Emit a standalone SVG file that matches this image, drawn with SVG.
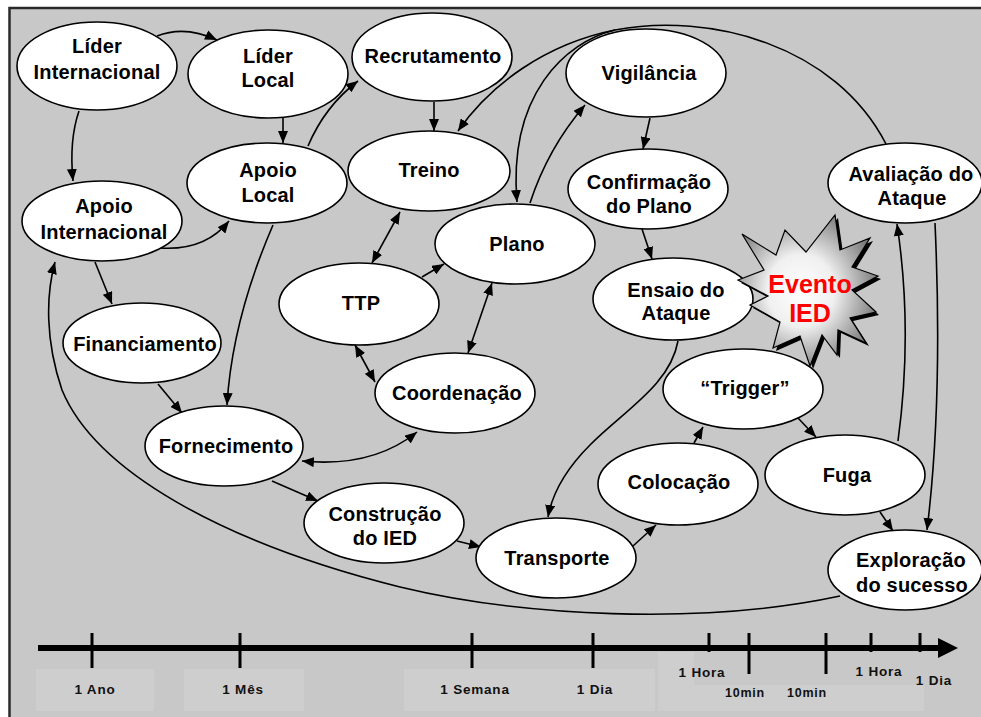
<svg xmlns="http://www.w3.org/2000/svg" width="981" height="717" viewBox="0 0 981 717">
<defs>
<style>
.bg{fill:#c8c8c8}
.box{fill:#cecece}
.nd{fill:#fff;stroke:#000;stroke-width:1.6}
.n{font-family:"Liberation Sans",Arial,sans-serif;font-weight:bold;font-size:20px;letter-spacing:0.2px;text-anchor:middle;fill:#000}
.ev{font-family:"Liberation Sans",Arial,sans-serif;font-weight:bold;font-size:25px;text-anchor:middle;fill:#ff0000}
.t{font-family:"Liberation Sans",Arial,sans-serif;font-weight:bold;font-size:13.5px;letter-spacing:0.8px;text-anchor:middle;fill:#111}
.c{fill:none;stroke:#000;stroke-width:1.6}
.a{marker-end:url(#ah)}
.d{marker-start:url(#ah);marker-end:url(#ah)}
.tk{stroke:#000;stroke-width:3}
</style>
<marker id="ah" markerUnits="userSpaceOnUse" markerWidth="13" markerHeight="10" refX="12" refY="5" orient="auto-start-reverse">
<path d="M0,0 L12,5 L0,10 z" fill="#000"/>
</marker>
<radialGradient id="sg" cx="0.45" cy="0.5" r="0.6">
<stop offset="0" stop-color="#ffffff"/>
<stop offset="0.4" stop-color="#f0f0f0"/>
<stop offset="1" stop-color="#6a6a6a"/>
</radialGradient>
</defs>
<rect x="0" y="0" width="981" height="717" fill="#fff"/>
<rect class="bg" x="9" y="8" width="972" height="709"/>
<path d="M9.5,717 L9.5,8 L981,8" fill="none" stroke="#2a2a2a" stroke-width="2.5"/>

<g id="timeline">
<rect class="box" x="36" y="669" width="118" height="42"/>
<rect class="box" x="184" y="669" width="120" height="42"/>
<rect class="box" x="404" y="669" width="251" height="42"/>
<rect class="box" x="658" y="652" width="36" height="59"/>
<rect class="box" x="694" y="685" width="230" height="26"/>
<line x1="38" y1="648" x2="942" y2="648" stroke="#000" stroke-width="6"/>
<path d="M938,638 L958,648 L938,658 z" fill="#000"/>
<line class="tk" x1="92" y1="633" x2="92" y2="668"/>
<line class="tk" x1="240" y1="633" x2="240" y2="668"/>
<line class="tk" x1="472" y1="633" x2="472" y2="668"/>
<line class="tk" x1="593" y1="633" x2="593" y2="668"/>
<line class="tk" x1="709" y1="633" x2="709" y2="652"/>
<line class="tk" x1="749" y1="633" x2="749" y2="674"/>
<line class="tk" x1="826" y1="633" x2="826" y2="674"/>
<line class="tk" x1="871" y1="633" x2="871" y2="652"/>
<line class="tk" x1="920" y1="633" x2="920" y2="652"/>
<text class="t" x="95" y="694">1 Ano</text>
<text class="t" x="243" y="694">1 Mês</text>
<text class="t" x="475" y="694">1 Semana</text>
<text class="t" x="595" y="694">1 Dia</text>
<text class="t" x="702" y="677">1 Hora</text>
<text class="t" x="745" y="697" style="font-size:12.5px">10min</text>
<text class="t" x="807" y="697" style="font-size:12.5px">10min</text>
<text class="t" x="879" y="676">1 Hora</text>
<text class="t" x="934" y="685">1 Dia</text>
</g>

<g id="connectors">
<path class="c a" d="M157,36 Q185,25 217,40"/>
<path class="c a" d="M79,111 Q69,140 73,181"/>
<path class="c a" d="M283,118 L283,143"/>
<path class="c a" d="M160,248 Q205,251 229,221"/>
<path class="c a" d="M95,262 L112,304"/>
<path class="c a" d="M308,146 Q325,106 358,81"/>
<path class="c a" d="M273,225 Q232,320 227,405"/>
<path class="c a" d="M434,102 L434,131"/>
<path class="c a" d="M886,144 C835,45 710,12 615,30 C545,44 490,85 458,131"/>
<path class="c a" d="M615,30 C565,42 508,95 517,202"/>
<path class="c a" d="M530,203 Q548,148 585,105"/>
<path class="c a" d="M650,118 L643,149"/>
<path class="c a" d="M642,229 L652,259"/>
<path class="c a" d="M678,341 C670,385 625,410 590,445 C565,470 552,495 548,517"/>
<path class="c a" d="M633,546 L656,525"/>
<path class="c a" d="M694,443 L703,427"/>
<path class="c a" d="M798,418 L816,437"/>
<path class="c a" d="M880,512 L893,531"/>
<path class="c a" d="M935,223 Q943,400 927,530"/>
<path class="c a" d="M898,441 Q913,330 897,224"/>
<path class="c a" d="M840,596 C700,626 520,616 400,587 C220,542 95,470 62,390 C45,340 46,295 55,262"/>
<path class="c a" d="M158,384 L182,413"/>
<path class="c d" d="M302,461 Q372,468 417,432"/>
<path class="c a" d="M272,481 L318,501"/>
<path class="c a" d="M457,541 L481,547"/>
<path class="c d" d="M400,212 L372,263"/>
<path class="c a" d="M422,277 L444,264"/>
<path class="c d" d="M492,283 L468,353"/>
<path class="c d" d="M355,345 L375,382"/>
</g>

<g id="lider-internacional"><ellipse class="nd" cx="97" cy="66" rx="80" ry="44"/><text class="n" x="97" y="53">Líder</text><text class="n" x="97" y="79">Internacional</text></g>
<g id="lider-local"><ellipse class="nd" cx="268" cy="74" rx="80" ry="44"/><text class="n" x="268" y="63">Líder</text><text class="n" x="268" y="87">Local</text></g>
<g id="recrutamento"><ellipse class="nd" cx="432" cy="57" rx="80" ry="44"/><text class="n" x="433" y="63">Recrutamento</text></g>
<g id="apoio-local"><ellipse class="nd" cx="267" cy="183" rx="80" ry="40"/><text class="n" x="268" y="177">Apoio</text><text class="n" x="268" y="202">Local</text></g>
<g id="treino"><ellipse class="nd" cx="429" cy="171" rx="81" ry="40"/><text class="n" x="429" y="177">Treino</text></g>
<g id="apoio-internacional"><ellipse class="nd" cx="102" cy="221" rx="80" ry="40"/><text class="n" x="104" y="213">Apoio</text><text class="n" x="104" y="239">Internacional</text></g>
<g id="vigilancia"><ellipse class="nd" cx="646" cy="73" rx="80" ry="44"/><text class="n" x="649" y="80">Vigilância</text></g>
<g id="confirmacao"><ellipse class="nd" cx="648" cy="189" rx="80" ry="40"/><text class="n" x="649" y="189">Confirmação</text><text class="n" x="649" y="213">do Plano</text></g>
<g id="avaliacao"><ellipse class="nd" cx="905" cy="183" rx="77" ry="40"/><text class="n" x="911" y="181">Avaliação do</text><text class="n" x="912" y="205">Ataque</text></g>
<g id="plano"><ellipse class="nd" cx="515" cy="244" rx="80" ry="40"/><text class="n" x="517" y="251">Plano</text></g>
<g id="ttp"><ellipse class="nd" cx="359" cy="304" rx="80" ry="41"/><text class="n" x="361" y="310">TTP</text></g>
<g id="coordenacao"><ellipse class="nd" cx="455" cy="393" rx="80" ry="40"/><text class="n" x="457" y="400">Coordenação</text></g>
<g id="ensaio"><ellipse class="nd" cx="673" cy="299" rx="80" ry="41"/><text class="n" x="676" y="297">Ensaio do</text><text class="n" x="676" y="320">Ataque</text></g>
<g id="financiamento"><ellipse class="nd" cx="142" cy="343" rx="79" ry="40"/><text class="n" x="145" y="351">Financiamento</text></g>
<g id="fornecimento"><ellipse class="nd" cx="224" cy="446" rx="79" ry="40"/><text class="n" x="226" y="453">Fornecimento</text></g>
<g id="construcao"><ellipse class="nd" cx="384" cy="523" rx="80" ry="40"/><text class="n" x="385" y="521">Construção</text><text class="n" x="385" y="545">do IED</text></g>
<g id="transporte"><ellipse class="nd" cx="556" cy="558" rx="80" ry="40"/><text class="n" x="557" y="565">Transporte</text></g>
<g id="colocacao"><ellipse class="nd" cx="678" cy="484" rx="80" ry="41"/><text class="n" x="679" y="489">Colocação</text></g>
<g id="trigger"><ellipse class="nd" cx="743" cy="389" rx="80" ry="40"/><text class="n" x="745" y="395">“Trigger”</text></g>
<g id="fuga"><ellipse class="nd" cx="845" cy="475" rx="80" ry="40"/><text class="n" x="847" y="482">Fuga</text></g>
<g id="exploracao"><ellipse class="nd" cx="905" cy="570" rx="77" ry="40"/><text class="n" x="911" y="567">Exploração</text><text class="n" x="912" y="592">do sucesso</text></g>

<g id="evento-ied">
<polygon fill="#000" transform="translate(3,3)" points="835,215 840,250 870,238 852,267 878,276 852,290 876,312 850,318 866,343 838,330 837,355 822,335 810,366 800,336 773,348 780,322 750,305 768,296 738,280 764,270 742,234 776,255 785,230 806,252"/>
<polygon fill="url(#sg)" stroke="#000" stroke-width="1.2" points="835,215 840,250 870,238 852,267 878,276 852,290 876,312 850,318 866,343 838,330 837,355 822,335 810,366 800,336 773,348 780,322 750,305 768,296 738,280 764,270 742,234 776,255 785,230 806,252"/>
<text class="ev" x="810" y="293">Evento</text>
<text class="ev" x="810" y="322">IED</text>
</g>
</svg>
